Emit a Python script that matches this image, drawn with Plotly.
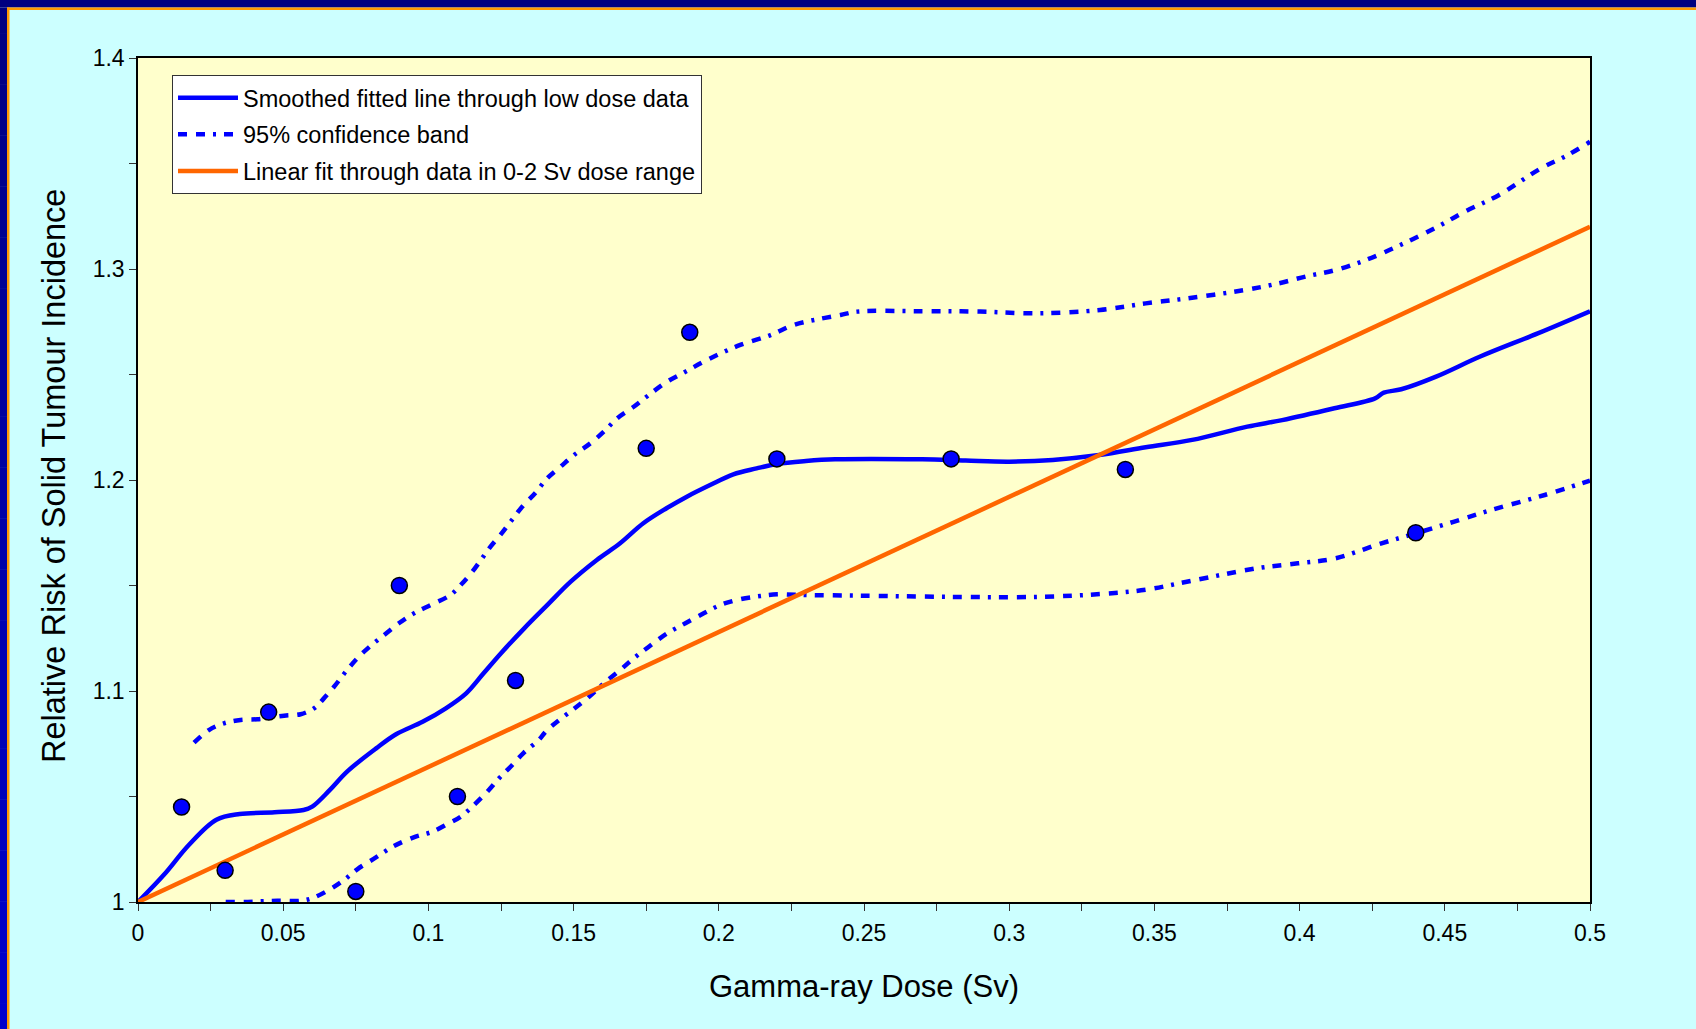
import plotly.graph_objects as go

# ---------------- data ----------------
dose_pts = [0.015, 0.03, 0.045, 0.075, 0.09, 0.11, 0.13, 0.175, 0.19, 0.22, 0.28, 0.34, 0.44]
rr_pts = [1.045, 1.015, 1.09, 1.005, 1.15, 1.05, 1.105, 1.215, 1.27, 1.21, 1.21, 1.205, 1.175]

smooth_x = [0.0, 0.009, 0.0175, 0.027, 0.035, 0.047, 0.057, 0.060, 0.066, 0.072, 0.082, 0.089,
            0.098, 0.106, 0.113, 0.119, 0.125, 0.133, 0.141, 0.149, 0.158, 0.166, 0.174, 0.182,
            0.189, 0.197, 0.205, 0.213, 0.220, 0.230, 0.240, 0.270, 0.285, 0.300, 0.315, 0.331,
            0.347, 0.363, 0.382, 0.394, 0.412, 0.426, 0.429, 0.435, 0.447, 0.462, 0.482, 0.5]
smooth_y = [1.0, 1.013, 1.027, 1.039, 1.0417, 1.0425, 1.0436, 1.0452, 1.053, 1.0618, 1.0728, 1.0796,
            1.0854, 1.0918, 1.0989, 1.1084, 1.1179, 1.1297, 1.1408, 1.1518, 1.1621, 1.170, 1.1795, 1.1866,
            1.1921, 1.1976, 1.2027, 1.2055, 1.2076, 1.209, 1.2098, 1.2098, 1.2092, 1.2087, 1.2095, 1.2118,
            1.2155, 1.219, 1.2253, 1.2284, 1.234, 1.2387, 1.2414, 1.243, 1.249, 1.2584, 1.2695, 1.280]

upper_x = [0.0193, 0.0244, 0.0296, 0.0353, 0.0411, 0.0503, 0.056, 0.0606, 0.064, 0.0675, 0.0715,
           0.0755, 0.0795, 0.0847, 0.0898, 0.095, 0.1013, 0.1076, 0.1111, 0.1151, 0.1185, 0.1214,
           0.1248, 0.1283, 0.1323, 0.1369, 0.1409, 0.1455, 0.1501, 0.1558, 0.1604, 0.165, 0.1707,
           0.1759, 0.1822, 0.1885, 0.1948, 0.2006, 0.2074, 0.2178, 0.2258, 0.2338, 0.2419, 0.2476,
           0.27, 0.29, 0.31, 0.3313, 0.347, 0.3614, 0.381, 0.3928, 0.402, 0.4124, 0.4229, 0.4347,
           0.4465, 0.4569, 0.4687, 0.4831, 0.4923, 0.5]
upper_y = [1.0755, 1.0815, 1.0847, 1.0863, 1.0866, 1.0883, 1.089, 1.0918, 1.0965, 1.102, 1.1091,
           1.1155, 1.1207, 1.1265, 1.1321, 1.1368, 1.1411, 1.1455, 1.1502, 1.1565, 1.1629, 1.1684,
           1.174, 1.1802, 1.1873, 1.194, 1.2008, 1.2063, 1.2118, 1.2174, 1.2229, 1.2292, 1.2347,
           1.2403, 1.2466, 1.2513, 1.2561, 1.26, 1.264, 1.2687, 1.2735, 1.2761, 1.2782, 1.2798,
           1.2800, 1.2798, 1.279, 1.2806, 1.2837, 1.2861, 1.29, 1.2932, 1.2964, 1.2995, 1.3043, 1.3114,
           1.3193, 1.3272, 1.3351, 1.3477, 1.354, 1.3603]

lower_x = [0.0302, 0.0365, 0.048, 0.056, 0.06, 0.0657, 0.0709, 0.0755, 0.0818, 0.0881, 0.0956,
           0.1013, 0.107, 0.1111, 0.1151, 0.1203, 0.1243, 0.1283, 0.1329, 0.138, 0.1409, 0.1547,
           0.1604, 0.1661, 0.1707, 0.1759, 0.1822, 0.1885, 0.1948, 0.2006, 0.2074, 0.2143, 0.2201,
           0.2281, 0.2487, 0.28, 0.31, 0.332, 0.347, 0.362, 0.385, 0.3994, 0.4124, 0.4282, 0.44,
           0.453, 0.4661, 0.4844, 0.5]
lower_y = [1.0, 1.0, 1.0006, 1.0006, 1.0018, 1.0057, 1.0104, 1.0155, 1.021, 1.0265, 1.031,
           1.0333, 1.0373, 1.0404, 1.0452, 1.0523, 1.0586, 1.0641, 1.0708, 1.0768, 1.0815, 1.0965,
           1.1036, 1.11, 1.1155, 1.121, 1.1273, 1.1321, 1.1368, 1.1408, 1.1435, 1.145, 1.1458,
           1.1455, 1.1452, 1.1446, 1.1446, 1.146, 1.148, 1.152, 1.1581, 1.1605, 1.1629, 1.17, 1.1747,
           1.1802, 1.1858, 1.1929, 1.1997]

linear_x = [0.0, 0.5]
linear_y = [1.0, 1.32]

x_tickvals = [0, 0.05, 0.1, 0.15, 0.2, 0.25, 0.3, 0.35, 0.4, 0.45, 0.5]
x_ticktext = ["0", "0.05", "0.1", "0.15", "0.2", "0.25", "0.3", "0.35", "0.4", "0.45", "0.5"]
y_tickvals = [1.0, 1.1, 1.2, 1.3, 1.4]
y_ticktext = ["1", "1.1", "1.2", "1.3", "1.4"]

names = ["Smoothed fitted line through low dose data",
         "95% confidence band",
         "Linear fit through data in 0-2 Sv dose range"]

# ---------------- layout constants ----------------
W, H = 1696, 1029
L, R, T, B = 138, 1590, 58, 902
FONT = "Liberation Sans, Arial, sans-serif"
BLUE = "#0000FF"
ORANGE = "#FF6600"
DASH = "9px,9px,9px,8px,3px,8px"
TICKFONT = 23
TITLEFONT = 31
YTITLEFONT = 32.5
LEGFONT = 23.5


def px(x):
    return (x - L) / (R - L)


def py(y):
    return 1 - (y - T) / (B - T)


fig = go.Figure()

fig.add_trace(go.Scatter(x=smooth_x, y=smooth_y, mode="lines", name=names[0], legendgroup="g1",
                         line=dict(color=BLUE, width=4.5), line_shape="spline"))
fig.add_trace(go.Scatter(x=upper_x, y=upper_y, mode="lines", name=names[1], legendgroup="g2",
                         line=dict(color=BLUE, width=4.5, dash=DASH), line_shape="spline"))
fig.add_trace(go.Scatter(x=lower_x, y=lower_y, mode="lines", name=names[1], legendgroup="g2",
                         showlegend=False,
                         line=dict(color=BLUE, width=4.5, dash=DASH), line_shape="spline"))
fig.add_trace(go.Scatter(x=linear_x, y=linear_y, mode="lines", name=names[2], legendgroup="g3",
                         line=dict(color=ORANGE, width=4.5)))
fig.add_trace(go.Scatter(x=dose_pts, y=rr_pts, mode="markers", showlegend=False,
                         marker=dict(color=BLUE, size=16, line=dict(color="black", width=1.5))))

shapes = []
# top navy band and orange stripe
shapes.append(dict(type="rect", xref="paper", yref="paper", x0=px(0), x1=px(W), y0=py(0), y1=py(7.5),
                   fillcolor="#000080", line=dict(width=0), layer="below"))
shapes.append(dict(type="rect", xref="paper", yref="paper", x0=px(7), x1=px(W), y0=py(7.5), y1=py(10),
                   fillcolor="#FF9900", line=dict(width=0), layer="below"))
# left gradient band
n = 40
for i in range(n):
    y0 = 7.5 + (H - 7.5) * i / n
    y1 = 7.5 + (H - 7.5) * (i + 1) / n
    f = (i + 0.5) / n
    b = int(128 + (205 - 128) * f)
    shapes.append(dict(type="rect", xref="paper", yref="paper", x0=px(0), x1=px(7.2),
                       y0=py(y0), y1=py(y1 + 0.5),
                       fillcolor="rgb(0,0,%d)" % b, line=dict(width=0), layer="below"))
shapes.append(dict(type="rect", xref="paper", yref="paper", x0=px(7), x1=px(9.5), y0=py(7.5), y1=py(H),
                   fillcolor="#FF9900", line=dict(width=0), layer="below"))

annotations = [
    dict(text="Gamma-ray Dose (Sv)", xref="paper", yref="paper", x=px((L + R) / 2), y=py(986),
         xanchor="center", yanchor="middle", showarrow=False,
         font=dict(family=FONT, size=TITLEFONT, color="black")),
    dict(text="Relative Risk of Solid Tumour Incidence", xref="paper", yref="paper",
         x=px(54), y=py(476), xanchor="center", yanchor="middle", textangle=-90, showarrow=False,
         font=dict(family=FONT, size=YTITLEFONT, color="black")),
]

axis_common = dict(showgrid=False, zeroline=False, showline=True, linecolor="black", linewidth=1.5,
                   mirror=True, ticks="outside", ticklen=7, tickcolor="#333333", tickwidth=1,
                   tickfont=dict(family=FONT, size=TICKFONT, color="black"))

fig.update_layout(
    width=W, height=H,
    margin=dict(l=L, r=W - R, t=T, b=H - B, pad=0),
    paper_bgcolor="#CCFFFF",
    plot_bgcolor="#FFFFCC",
    font=dict(family=FONT, size=TICKFONT, color="black"),
    shapes=shapes,
    annotations=annotations,
    showlegend=True,
    legend=dict(x=px(172), y=py(75), xanchor="left", yanchor="top",
                bgcolor="white", bordercolor="#333333", borderwidth=1,
                font=dict(family=FONT, size=LEGFONT, color="black"),
                itemwidth=60, traceorder="grouped", tracegroupgap=3),
    xaxis=dict(range=[0, 0.5], tickvals=x_tickvals, ticktext=x_ticktext, ticklabelstandoff=3,
               minor=dict(dtick=0.025, tick0=0, ticks="outside", ticklen=7, tickcolor="#333333",
                          tickwidth=1, showgrid=False),
               **axis_common),
    yaxis=dict(range=[1, 1.4], tickvals=y_tickvals, ticktext=y_ticktext,
               minor=dict(dtick=0.05, tick0=1, ticks="outside", ticklen=7, tickcolor="#333333",
                          tickwidth=1, showgrid=False),
               **axis_common),
)

fig.write_html("out.html",
               config={"displayModeBar": False},
               post_script="document.body.style.margin='0';document.body.style.overflow='hidden';"
                           "document.documentElement.style.background='#CCFFFF';")
